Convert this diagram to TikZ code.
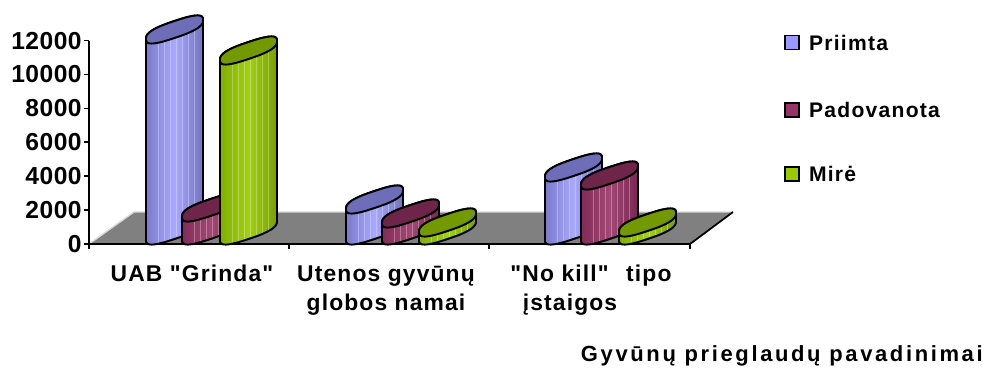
\documentclass[tikz,border=0pt]{standalone}
\usepackage{fontspec}
\setmainfont{Liberation Sans}
\newfontfamily\arial{Liberation Sans}
\usetikzlibrary{positioning}

\definecolor{priimta}{HTML}{9999FF}
\definecolor{padovanota}{HTML}{993366}
\definecolor{mire}{HTML}{99CC00}
\definecolor{grindis}{HTML}{808080}

\tikzset{
  kontur/.style={draw=black, line width=1.1pt, line join=round},
  asis/.style={draw=black, line width=1pt},
  priimta kunas/.style={left color=priimta!80!black, right color=priimta!75!black, middle color=priimta!85!white},
  priimta dangtis/.style={fill=priimta!72!black},
  padovanota kunas/.style={left color=padovanota!85!black, right color=padovanota!78!black, middle color=padovanota!90!white},
  padovanota dangtis/.style={fill=padovanota!72!black},
  mire kunas/.style={left color=mire!85!black, right color=mire!78!black, middle color=mire!92!white},
  mire dangtis/.style={fill=mire!75!black},
  skaicius/.style={font=\arial\fontsize{14}{14}\selectfont\bfseries\addfontfeature{LetterSpace=2}, inner sep=0pt},
  zyme/.style={font=\arial\fontsize{13}{16}\selectfont\bfseries\addfontfeature{LetterSpace=5}, inner sep=0pt},
  kv/.style={draw=black, line width=.8pt, minimum size=0.28cm, inner sep=0pt},
  leg/.style={font=\arial\fontsize{12}{12}\selectfont\bfseries\addfontfeature{LetterSpace=6}, inner sep=0pt, anchor=west}
}

% #1 kaire x, #2 aukstis, #3 serija
\def\ca{28.5}\def\cb{9.5}\def\cd{8.5}
\newcommand{\stulpelis}[3]{%
  \pgfmathsetmacro\cx{#1+\ca}
  \pgfmathsetmacro\cv{145.5+#2}
  \def\kunas{(#1,{145.5-\cb}) -- plot[variable=\t,domain=180:360,samples=61] ({\cx+\ca*kc(\t)},{145.5+\cb*kc(\t)+\cd*ks(\t)}) -- ({#1+57},{\cv+\cb}) -- plot[variable=\t,domain=0:180,samples=61] ({\cx+\ca*kc(\t)},{\cv+\cb*kc(\t)+\cd*ks(\t)}) -- cycle}
  \shade[#3 kunas] \kunas;
  \begin{scope}
    \clip \kunas;
    \foreach \s in {12,18,24,30,36,42,48}
      \draw[white, opacity=.3, line width=.5pt] ({#1+\s},120) -- ({#1+\s},{\cv+30});
  \end{scope}
  \draw[kontur] \kunas;
  \filldraw[kontur, #3 dangtis] plot[variable=\t,domain=0:360,samples=121] ({\cx+\ca*kc(\t)},{\cv+\cb*kc(\t)+\cd*ks(\t)}) -- cycle;
}

\begin{document}
\begin{tikzpicture}[x=0.02cm,y=0.02cm,
    declare function={kc(\u)=sign(cos(\u))*pow(abs(cos(\u))+0.0001,0.72);
                      ks(\u)=sign(sin(\u))*pow(abs(sin(\u))+0.0001,0.72);}]
  \useasboundingbox (0,0) rectangle (989,376);
  % grindys
  \fill[grindis] (89,132) -- (690,132) -- (733,164) -- (134,164) -- cycle;
  \draw[gray!30, line width=.8pt] (89,132) -- (134,164) -- (733,164);
  \draw[asis] (690,132) -- (733,164);
  % asys
  \draw[asis] (89,335.4) -- (89,132) -- (690,132);
  \foreach \k in {0,...,6}{
    \draw[asis] (84,{132+\k*33.9}) -- (89,{132+\k*33.9});
    \pgfmathtruncatemacro\v{\k*2000}
    \node[skaicius, anchor=east] (y\k) at (82,{132+\k*33.9}) {\v};
  }
  \foreach \x in {89,289,489,690} \draw[asis] (\x,132) -- (\x,127);
  % stulpeliai
  \stulpelis{146}{201}{priimta}
  \stulpelis{182}{23}{padovanota}
  \stulpelis{220}{180}{mire}
  \stulpelis{346}{31}{priimta}
  \stulpelis{382}{17}{padovanota}
  \stulpelis{419}{8}{mire}
  \stulpelis{545}{63}{priimta}
  \stulpelis{581}{55}{padovanota}
  \stulpelis{619}{8}{mire}
  % kategorijos
  \node[zyme, anchor=base] (k1) at (192,94.3) {UAB "Grinda"};
  \node[zyme, anchor=base] (k2) at (386,94.3) {Utenos gyvūnų};
  \node[zyme, anchor=base] (k2b) at (386,66) {globos namai};
  \node[zyme, anchor=base] (k3) at (591,94.3) {"No kill"\hspace{10pt}tipo};
  \node[zyme, anchor=base] (k3b) at (570,66) {įstaigos};
  \node[zyme, anchor=base east, font=\arial\fontsize{12.5}{12.5}\selectfont\bfseries\addfontfeature{LetterSpace=12}] (pav) at (983,14.3) {Gyvūnų prieglaudų pavadinimai};
  % legenda
  \node[kv, fill=priimta] (lp1) at (792,333.5) {};
  \node[leg, right=0.18cm of lp1] (lt1) {Priimta};
  \node[kv, fill=padovanota] (lp2) at (792,266) {};
  \node[leg, right=0.18cm of lp2] (lt2) {Padovanota};
  \node[kv, fill=mire] (lp3) at (792,202) {};
  \node[leg, right=0.18cm of lp3] (lt3) {Mirė};
\end{tikzpicture}
\end{document}
